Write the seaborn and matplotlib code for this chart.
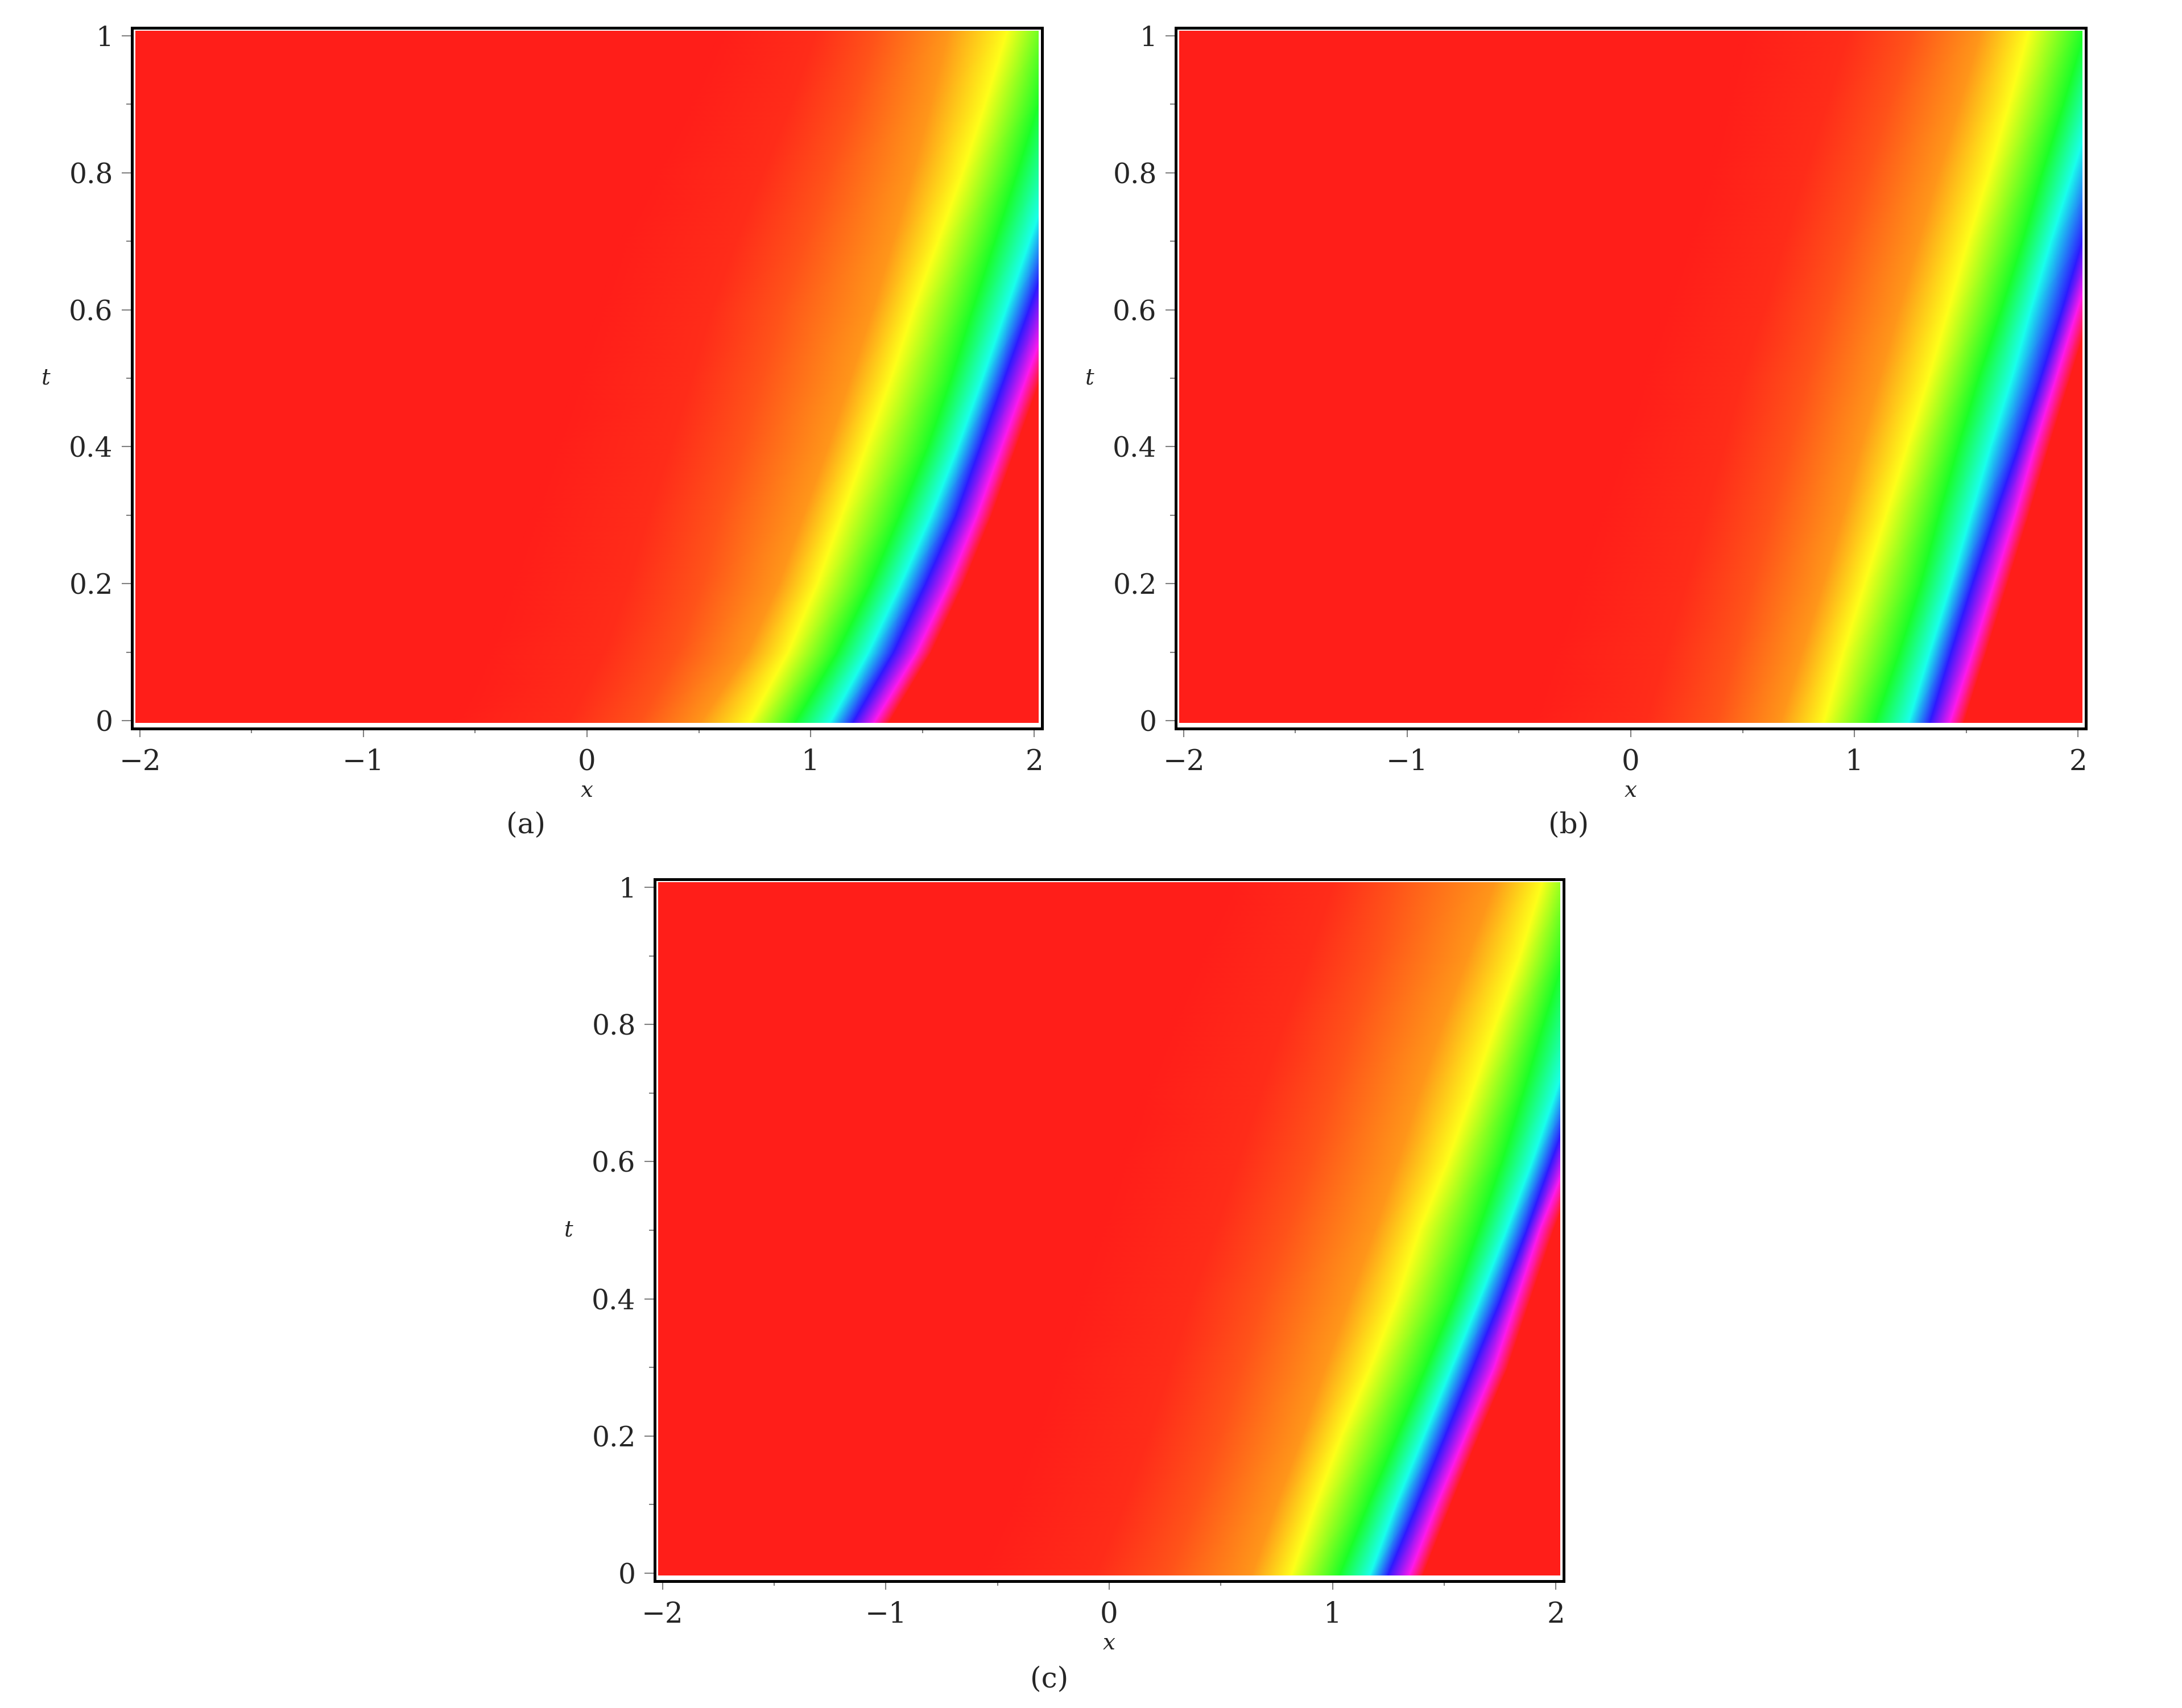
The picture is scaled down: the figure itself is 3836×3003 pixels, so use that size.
import seaborn as sns
import numpy as np
import matplotlib.pyplot as plt
from matplotlib.patches import Rectangle

T_ROWS = [-0.003, 0.1, 0.2, 0.3, 0.4, 0.5, 0.6, 0.7, 0.8, 0.9, 1.0075]
X_LEFT = -2.02
X_RIGHT = 2.02

# colours at the band positions, left to right
BAND_COLOURS = ["#FF1E19", "#FF1E19", "#FF2D19", "#FF5519", "#FF9619", "#FFFF19", "#19FF28",
                "#19FFF0", "#2819FF", "#FF19F0", "#FF1E19", "#FF1E19"]

# panel (a): x position of each colour at each t row
RED_A = [-0.60, -0.45, -0.35, -0.25, -0.15, -0.05, 0.05, 0.15, 0.30, 0.45, 0.60]
EMBER_A = [-0.08, 0.08, 0.19, 0.277, 0.377, 0.47, 0.56, 0.67, 0.79, 0.915, 1.03]
SCARLET_A = [0.24, 0.41, 0.52, 0.60, 0.70, 0.79, 0.875, 0.985, 1.09, 1.20, 1.30]
ORANGE_A = [0.51, 0.72, 0.86, 0.97, 1.08, 1.18, 1.28, 1.37, 1.46, 1.54, 1.62]
YELLOW_A = [0.727, 0.90, 1.03, 1.14, 1.25, 1.36, 1.46, 1.57, 1.68, 1.78, 1.88]
GREEN_A = [0.931, 1.12, 1.27, 1.40, 1.525, 1.63, 1.725, 1.825, 1.925, 2.02, 2.11]
CYAN_A = [1.087, 1.26, 1.405, 1.54, 1.66, 1.77, 1.875, 1.98, 2.086, 2.181, 2.276]
BLUE_A = [1.189, 1.372, 1.515, 1.651, 1.76, 1.868, 1.977, 2.086, 2.194, 2.289, 2.385]
MAGENTA_A = [1.284, 1.475, 1.62, 1.745, 1.855, 1.965, 2.075, 2.188, 2.296, 2.391, 2.486]
RED_END_A = [1.35, 1.54, 1.685, 1.81, 1.92, 2.03, 2.14, 2.25, 2.36, 2.46, 2.55]

# panel (b)
RED_B = [-0.45, -0.35, -0.25, -0.15, -0.05, 0.05, 0.15, 0.25, 0.35, 0.42, 0.50]
EMBER_B = [0.07, 0.16, 0.25, 0.335, 0.42, 0.50, 0.60, 0.69, 0.78, 0.88, 0.98]
SCARLET_B = [0.387, 0.469, 0.55, 0.632, 0.713, 0.795, 0.883, 0.971, 1.066, 1.161, 1.27]
ORANGE_B = [0.673, 0.768, 0.862, 0.95, 1.03, 1.115, 1.202, 1.29, 1.379, 1.474, 1.569]
YELLOW_B = [0.863, 0.951, 1.046, 1.141, 1.236, 1.332, 1.42, 1.508, 1.603, 1.692, 1.78]
GREEN_B = [1.094, 1.202, 1.298, 1.379, 1.465, 1.556, 1.658, 1.753, 1.841, 1.936, 2.031]
CYAN_B = [1.243, 1.338, 1.433, 1.522, 1.61, 1.705, 1.79, 1.88, 1.977, 2.072, 2.167]
BLUE_B = [1.338, 1.433, 1.529, 1.63, 1.735, 1.834, 1.93, 2.02, 2.113, 2.208, 2.303]
MAGENTA_B = [1.427, 1.529, 1.624, 1.719, 1.807, 1.902, 1.997, 2.099, 2.194, 2.289, 2.384]
RED_END_B = [1.49, 1.59, 1.685, 1.78, 1.87, 1.965, 2.06, 2.16, 2.255, 2.35, 2.445]

# panel (c)
RED_C = [-0.60, -0.45, -0.35, -0.25, -0.15, -0.05, 0.05, 0.15, 0.27, 0.40, 0.55]
EMBER_C = [-0.06, 0.07, 0.18, 0.275, 0.37, 0.48, 0.58, 0.68, 0.785, 0.90, 1.01]
SCARLET_C = [0.272, 0.394, 0.502, 0.597, 0.692, 0.801, 0.91, 1.005, 1.10, 1.208, 1.29]
ORANGE_C = [0.64, 0.75, 0.865, 0.97, 1.08, 1.19, 1.295, 1.39, 1.495, 1.61, 1.73]
YELLOW_C = [0.815, 0.924, 1.04, 1.17, 1.29, 1.39, 1.515, 1.625, 1.73, 1.84, 1.94]
GREEN_C = [1.032, 1.16, 1.29, 1.42, 1.545, 1.655, 1.76, 1.855, 1.945, 2.04, 2.13]
CYAN_C = [1.168, 1.285, 1.41, 1.535, 1.66, 1.78, 1.895, 2.0, 2.105, 2.20, 2.295]
BLUE_C = [1.249, 1.38, 1.505, 1.63, 1.755, 1.87, 1.98, 2.09, 2.20, 2.30, 2.40]
MAGENTA_C = [1.344, 1.467, 1.595, 1.724, 1.826, 1.928, 2.05, 2.16, 2.27, 2.37, 2.47]
RED_END_C = [1.405, 1.53, 1.655, 1.785, 1.887, 1.99, 2.11, 2.22, 2.33, 2.43, 2.53]

PANEL_A = [RED_A, EMBER_A, SCARLET_A, ORANGE_A, YELLOW_A, GREEN_A, CYAN_A, BLUE_A, MAGENTA_A, RED_END_A]
PANEL_B = [RED_B, EMBER_B, SCARLET_B, ORANGE_B, YELLOW_B, GREEN_B, CYAN_B, BLUE_B, MAGENTA_B, RED_END_B]
PANEL_C = [RED_C, EMBER_C, SCARLET_C, ORANGE_C, YELLOW_C, GREEN_C, CYAN_C, BLUE_C, MAGENTA_C, RED_END_C]

X_TICKS = [-2, -1, 0, 1, 2]
X_TICK_LABELS = ["\u22122", "\u22121", "0", "1", "2"]
X_MINOR = [-1.5, -0.5, 0.5, 1.5]
T_TICKS = [0, 0.2, 0.4, 0.6, 0.8, 1]
T_TICK_LABELS = ["0", "0.2", "0.4", "0.6", "0.8", "1"]
T_MINOR = [0.1, 0.3, 0.5, 0.7, 0.9]

W, H = 3837, 3003

sns.set_theme(style="ticks", rc={"axes.linewidth": 3.6, "axes.edgecolor": "black"})
plt.rcParams['font.family'] = ['DejaVu Serif', 'Liberation Serif']

band_cmap = sns.blend_palette(BAND_COLOURS, n_colors=256, as_cmap=True)


def plot_panel(fig, box, bands, caption, caption_xy):
    left, right, top, bottom = box
    ax = fig.add_axes([left / W, 1 - bottom / H, (right - left) / W, (bottom - top) / H])

    rows = len(T_ROWS)
    xs = np.array([[X_LEFT] * rows] + bands + [[3.0] * rows]).T
    ts = np.array([T_ROWS] * xs.shape[1]).T
    levels = np.array([np.arange(xs.shape[1])] * rows)

    mesh = ax.pcolormesh(xs, ts, levels, shading="gouraud", cmap=band_cmap,
                         vmin=0, vmax=xs.shape[1] - 1)
    mesh.set_clip_path(Rectangle((X_LEFT, T_ROWS[0]), X_RIGHT - X_LEFT, T_ROWS[-1] - T_ROWS[0],
                                 transform=ax.transData))

    ax.set_xlim(-2.0356, 2.0356)
    ax.set_ylim(-0.0116, 1.0116)

    ax.set_xticks(X_TICKS, X_TICK_LABELS, fontsize=36)
    ax.set_xticks(X_MINOR, minor=True)
    ax.set_yticks(T_TICKS, T_TICK_LABELS, fontsize=35)
    ax.set_yticks(T_MINOR, minor=True)
    ax.tick_params(axis="x", which="major", length=11, width=1.5, color="#808080", pad=14)
    ax.tick_params(axis="x", which="minor", length=6, width=1.5, color="#808080")
    ax.tick_params(axis="y", which="major", length=13, width=1.5, color="#808080", pad=11)
    ax.tick_params(axis="y", which="minor", length=7, width=1.5, color="#808080")

    ax.set_xlabel("x", fontsize=28, style="italic", va="center")
    ax.xaxis.set_label_coords(0.5, -0.0885)
    ax.set_ylabel("t", fontsize=28, style="italic", rotation=0, ha="center", va="center")
    ax.yaxis.set_label_coords(-0.0944, 0.5)

    fig.text(caption_xy[0] / W, 1 - caption_xy[1] / H, caption, fontsize=36,
             ha="center", va="center")
    return ax


fig = plt.figure(figsize=(W / 100, H / 100), dpi=100)
plot_panel(fig, (232, 1832, 49, 1281), PANEL_A, "(a)", (925, 1451))
plot_panel(fig, (2067, 3667, 49, 1281), PANEL_B, "(b)", (2758, 1451))
plot_panel(fig, (1151, 2749, 1546, 2780), PANEL_C, "(c)", (1845, 2953))

fig.savefig("out.png", dpi=100)
